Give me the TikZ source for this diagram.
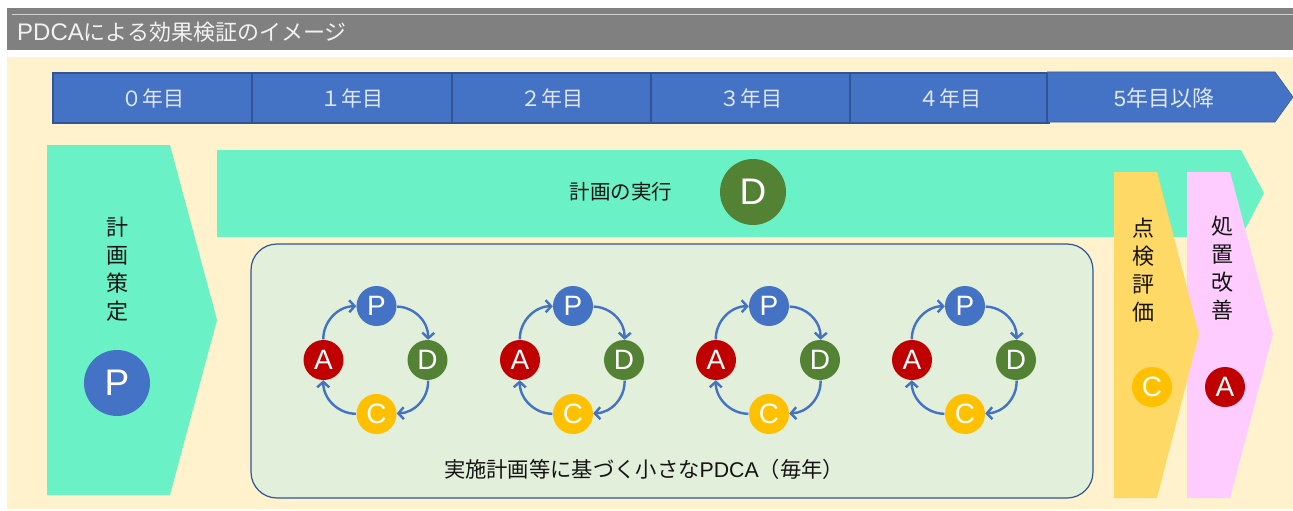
\documentclass[tikz,border=0pt]{standalone}
\usepackage{fontspec}
\setmainfont{Liberation Sans}
\newfontfamily\jp{Noto Sans CJK JP}
\usetikzlibrary{arrows.meta,calc}
\definecolor{titlegray}{RGB}{128,128,128}
\definecolor{titleline}{RGB}{210,210,210}
\definecolor{cream}{RGB}{255,242,204}
\definecolor{tlblue}{RGB}{68,114,196}
\definecolor{tldark}{RGB}{47,85,151}
\definecolor{mint}{RGB}{106,242,198}
\definecolor{paleg}{RGB}{226,239,218}
\definecolor{pgreen}{RGB}{84,130,53}
\definecolor{pyellow}{RGB}{255,192,0}
\definecolor{pred}{RGB}{192,0,0}
\definecolor{cgold}{RGB}{255,217,102}
\definecolor{apink}{RGB}{255,204,255}
\definecolor{tltext}{RGB}{225,232,245}
\definecolor{ink}{RGB}{20,20,20}
\tikzset{
  pc/.style={circle, inner sep=0pt, minimum size=40pt, text=white, font=\fontsize{28}{28}\selectfont},
  bigc/.style={circle, inner sep=0pt, minimum size=66pt, text=white, font=\fontsize{37}{37}\selectfont},
  cyc/.style={draw=tlblue, line width=2.4pt, -{Straight Barb[length=5.5pt,width=12pt]}, bend left=45, shorten <=0.5pt},
  tlcell/.style={draw=tldark, line width=1.5pt, fill=tlblue, minimum width=199pt, minimum height=50pt, inner sep=0pt, text=tltext, font=\jp\fontsize{21}{21}\selectfont},
  vtext/.style={align=center, text=ink, font=\jp\fontsize{22}{28}\selectfont},
}
\begin{document}
\begin{tikzpicture}[x=1pt,y=-1pt]
\useasboundingbox (0,0) rectangle (1293,511);
\fill[white] (0,0) rectangle (1293,511);
% title bar
\fill[titlegray] (7,8) rectangle (1293,50);
\draw[titleline, line width=1pt] (12,15) -- (1293,15);
\node[anchor=west, text=white!95!black, inner sep=0pt, font=\fontsize{24}{24}\selectfont] (title) at (17,32) {PDCA{\jp\fontsize{22}{22}\selectfont による効果検証のイメージ}};
% cream background
\fill[cream] (7,57) rectangle (1293,509);
% timeline
\node[tlcell] (y0) at (152.5,98) {０年目};
\node[tlcell] (y1) at (352,98) {１年目};
\node[tlcell] (y2) at (551.5,98) {２年目};
\node[tlcell] (y3) at (751,98) {３年目};
\node[tlcell] (y4) at (949.5,98) {４年目};
\fill[tlblue] (1047,72) -- (1275,72) -- (1293,97) -- (1275,122) -- (1047,122) -- cycle;
\draw[tldark!70!tlblue, line width=0.6pt] (1047,72) -- (1275,72) -- (1293,97) -- (1275,122) -- (1047,122);
\draw[tldark, line width=1.5pt] (1047,73) -- (1047,123);
\node[text=tltext, font=\fontsize{22}{22}\selectfont] (y5) at (1164,98) {5\jp 年目以降};
% P chevron
\fill[mint] (47,145) -- (170,145) -- (217,320) -- (170,495) -- (47,495) -- cycle;
\node[vtext] (plan) at (117,269) {計\\画\\策\\定};
\node[bigc, fill=tlblue] (bigP) at (117,383) {P};
% D arrow
\fill[mint] (217,150) -- (1241,150) -- (1264,193) -- (1241,237) -- (217,237) -- cycle;
\node[text=ink, font=\jp\fontsize{20.5}{20.5}\selectfont] (doText) at (621,192) {計画の実行};
\node[bigc, fill=pgreen] (bigD) at (753,192) {D};
% small PDCA box
\draw[tldark, line width=1.2pt, fill=paleg, rounded corners=26pt] (251,244) rectangle (1093,498);
\node[text=ink, font=\jp\fontsize{21.3}{21.3}\selectfont] (smallText) at (644,469) {実施計画等に基づく小さな{\rmfamily PDCA}（毎年）};
\foreach \i/\cx in {1/376.5,2/573,3/769,4/965} {
  \node[pc, fill=tlblue] (P\i) at (\cx,306) {P};
  \node[pc, fill=pgreen] (D\i) at (\cx+51,360) {D};
  \node[pc, fill=pyellow] (C\i) at (\cx,414) {C};
  \node[pc, fill=pred] (A\i) at (\cx-53,360) {A};
  \draw[cyc] (P\i) to (D\i);
  \draw[cyc] (D\i) to (C\i);
  \draw[cyc] (C\i) to (A\i);
  \draw[cyc] (A\i) to (P\i);
}
% A chevron
\fill[apink] (1187,172) -- (1230,172) -- (1273,334) -- (1230,498) -- (1187,498) -- cycle;
\node[vtext] (act) at (1222,268) {処\\置\\改\\善};
\node[pc, fill=pred] (bigA) at (1225,387) {A};
% C chevron
\fill[cgold] (1114,172) -- (1157,172) -- (1199,334) -- (1157,498) -- (1114,498) -- cycle;
\node[vtext] (check) at (1143,270) {点\\検\\評\\価};
\node[pc, fill=pyellow] (bigC) at (1152,387) {C};
\end{tikzpicture}
\end{document}
